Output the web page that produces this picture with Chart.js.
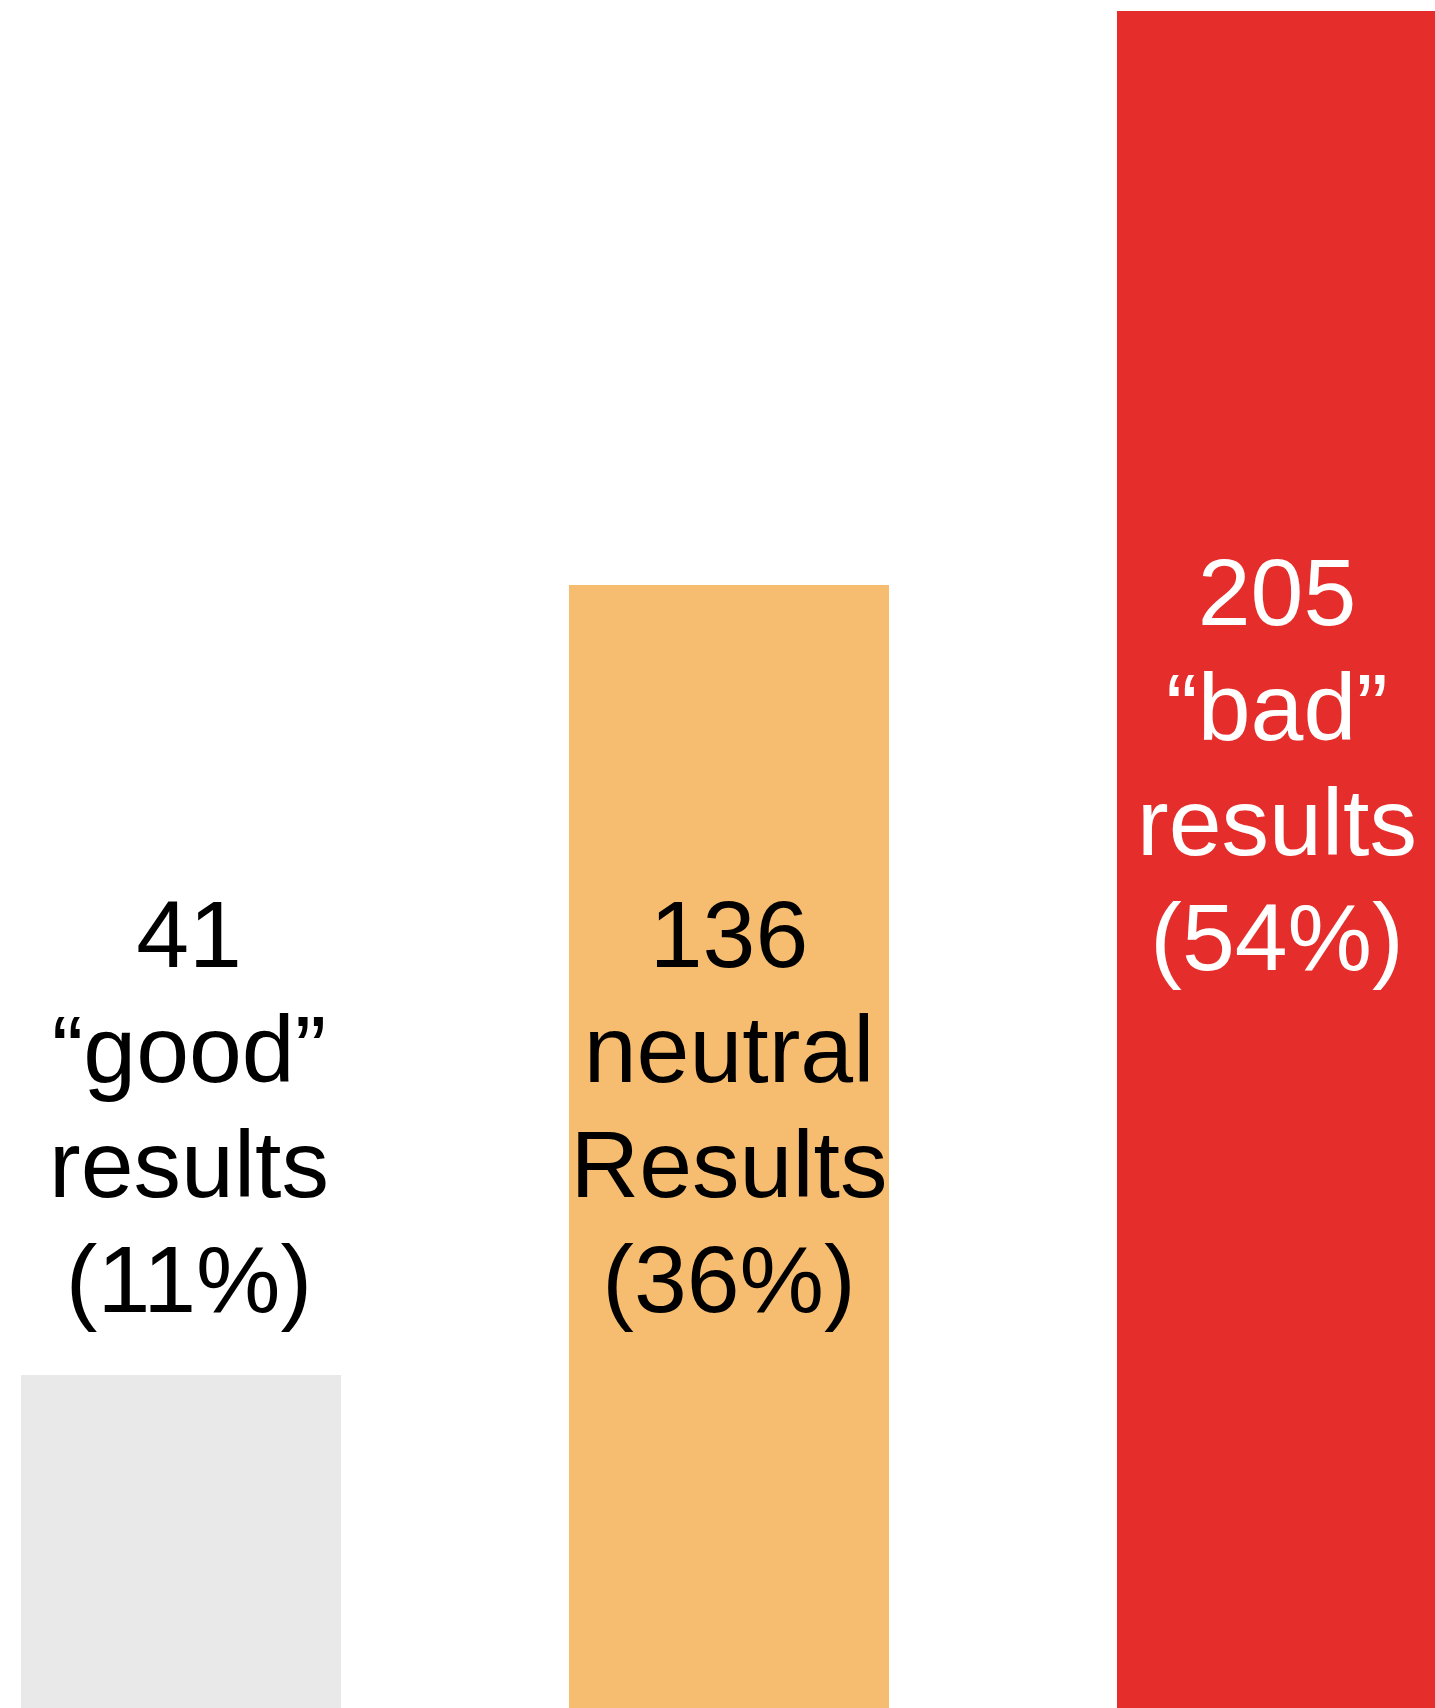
<!DOCTYPE html>
<html>
<head>
<meta charset="utf-8">
<script src="https://cdn.jsdelivr.net/npm/chart.js@4"></script>
<style>
  html, body { margin: 0; padding: 0; background: #ffffff; overflow: hidden; }
  body { width: 1435px; height: 1708px; position: relative; }
  /* chart is wider than the page so the outer bars run off the edges */
  #wrap { position: absolute; left: -93px; top: 0; width: 1644px; height: 1716px; }
</style>
</head>
<body>
<div id="wrap"><canvas id="resultsChart"></canvas></div>
<script>
const categories = ['good', 'neutral', 'bad'];
const counts = [41, 136, 205];
const captions = [
  ['\u201cgood\u201d', 'results'],
  ['neutral', 'Results'],
  ['\u201cbad\u201d', 'results']
];

const total = counts.reduce((a, b) => a + b, 0);

// Stacked text block: count, caption lines, then the share in brackets
const barText = {
  id: 'barText',
  afterDatasetsDraw(chart, args, opts) {
    const ctx = chart.ctx;
    const yScale = chart.scales.y;
    const bars = chart.getDatasetMeta(0).data;
    ctx.save();
    ctx.font = opts.font;
    ctx.textAlign = 'center';
    ctx.textBaseline = 'alphabetic';
    bars.forEach((bar, i) => {
      const v = counts[i];
      const lines = [String(v)].concat(captions[i], ['(' + Math.round(v / total * 100) + '%)']);
      const first = yScale.getPixelForValue(opts.firstLineAt[i]);
      ctx.fillStyle = opts.colors[i];
      lines.forEach((t, k) => {
        ctx.fillText(t, bar.x + opts.shiftX[i], first + k * opts.lineHeight);
      });
    });
    ctx.restore();
  }
};

const ctx = document.getElementById('resultsChart');
new Chart(ctx, {
  type: 'bar',
  data: {
    labels: categories,
    datasets: [{
      data: counts,
      backgroundColor: ['#e8e9e8', '#f6bd70', '#e52e2b'],
      borderWidth: 0,
      barPercentage: 0.584,
      categoryPercentage: 1
    }]
  },
  options: {
    responsive: true,
    maintainAspectRatio: false,
    animation: false,
    layout: { padding: { top: 11, left: 0, right: 0, bottom: 0 } },
    scales: {
      x: { display: false },
      y: { display: false, min: 0, max: 205 }
    },
    plugins: {
      legend: { display: false },
      tooltip: { enabled: false },
      barText: {
        font: '95px "Liberation Sans", Arial, Helvetica, sans-serif',
        lineHeight: 115,
        firstLineAt: [90, 90, 131.2], // baseline of the count line, in axis units
        shiftX: [8, 0, 0],
        colors: ['#000000', '#000000', '#ffffff']
      }
    }
  },
  plugins: [barText]
});
</script>
</body>
</html>
